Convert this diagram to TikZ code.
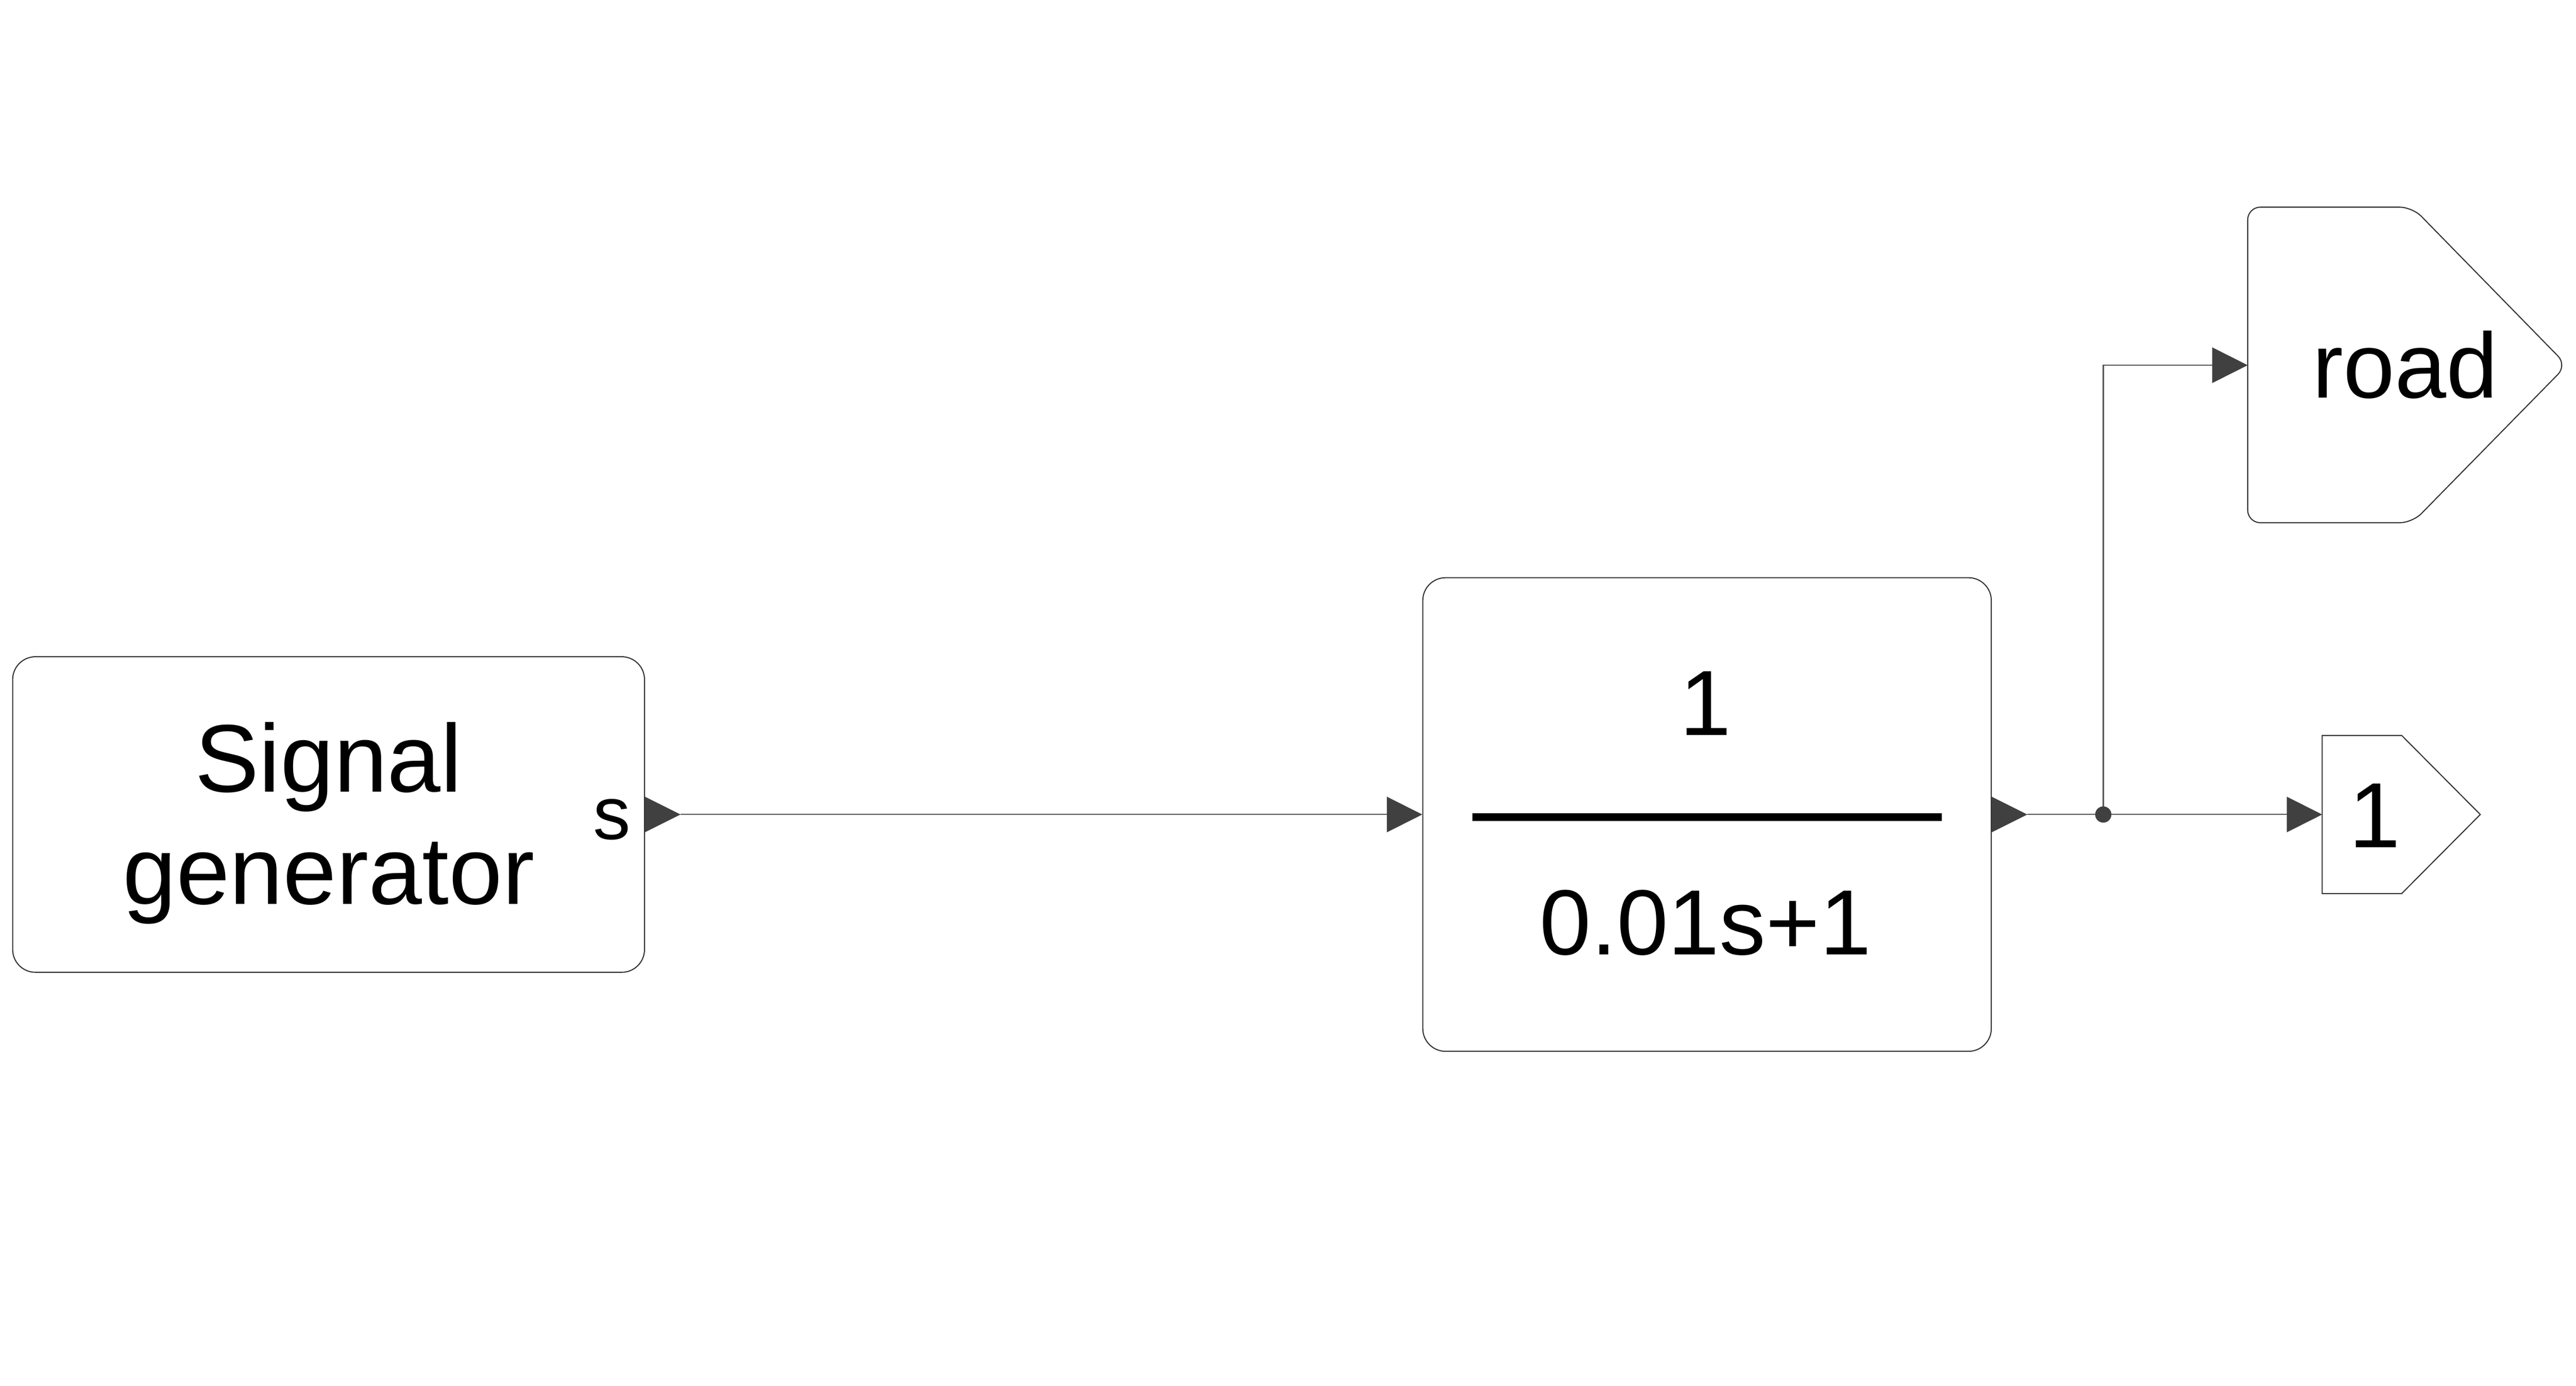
\documentclass[tikz,border=0pt]{standalone}
\usepackage{fontspec}
\setmainfont{Liberation Sans}
\usetikzlibrary{arrows.meta,positioning}

\definecolor{wiregray}{RGB}{85,85,85}
\definecolor{portgray}{RGB}{64,64,64}
\definecolor{edgegray}{RGB}{50,50,50}

\begin{document}
\begin{tikzpicture}[
    block/.style={draw=edgegray, line width=0.6pt, rounded corners=0.45cm, align=center},
    wire/.style={draw=wiregray, line width=0.6pt},
    porttip/.style={-{Triangle[length=0.7cm,width=0.7cm,fill=portgray,color=portgray]}},
    port/.style={fill=portgray},
    bigtext/.style={font=\fontsize{52}{60}\selectfont}
]
\useasboundingbox (0,0) rectangle (50.84,27.36);

% blocks
\node[block, minimum width=12.47cm, minimum height=6.23cm] (sig) at (6.485,11.28) {};
\node[align=center, font=\fontsize{54}{63}\selectfont] (sigtext) at ([yshift=-0.17cm]sig.center) {Signal\\generator};
\node[font=\fontsize{42}{48}\selectfont, anchor=east] (slabel) at (12.57,11.18) {s};
\node[block, minimum width=11.22cm, minimum height=9.35cm] (tf) at (33.69,11.28) {};
\node[bigtext, anchor=base] (num) at (33.66,12.85) {1};
\node[bigtext, anchor=base] (den) at (33.66,8.51) {0.01s+1};
\draw[line width=4.5pt] ([xshift=-4.63cm,yshift=-0.05cm]tf.center) -- ([xshift=4.63cm,yshift=-0.05cm]tf.center);

% goto tag and outport
\draw[draw=edgegray, line width=0.6pt, rounded corners=0.25cm]
    (44.36,23.27) -- (47.61,23.27) -- (50.66,20.15) -- (47.61,17.04) -- (44.36,17.04) -- cycle;
\node[bigtext, anchor=base] (road) at (47.47,19.51) {road};
\coordinate (roadin) at (44.36,20.15);
\draw[draw=edgegray, line width=0.6pt]
    (45.83,12.84) -- (47.40,12.84) -- (48.95,11.28) -- (47.40,9.72) -- (45.83,9.72) -- cycle;
\node[bigtext, anchor=base] (out) at (46.87,10.63) {1};
\coordinate (outin) at (45.83,11.28);

% output ports
\fill[port] ([yshift=0.35cm]sig.east) -- ([xshift=0.7cm]sig.east) -- ([yshift=-0.35cm]sig.east) -- cycle;
\fill[port] ([yshift=0.35cm]tf.east) -- ([xshift=0.7cm]tf.east) -- ([yshift=-0.35cm]tf.east) -- cycle;
\coordinate (sigout) at ([xshift=0.7cm]sig.east);
\coordinate (tfout) at ([xshift=0.7cm]tf.east);
\coordinate (jn) at (41.51,11.28);

% connectors
\draw[wire, porttip] (sigout) -- (tf.west);
\draw[wire] (tfout) -- (jn);
\draw[wire, porttip] (jn) -- (outin);
\draw[wire, porttip] (jn) |- (roadin);
\fill[port] (jn) circle (0.16);
\end{tikzpicture}
\end{document}
